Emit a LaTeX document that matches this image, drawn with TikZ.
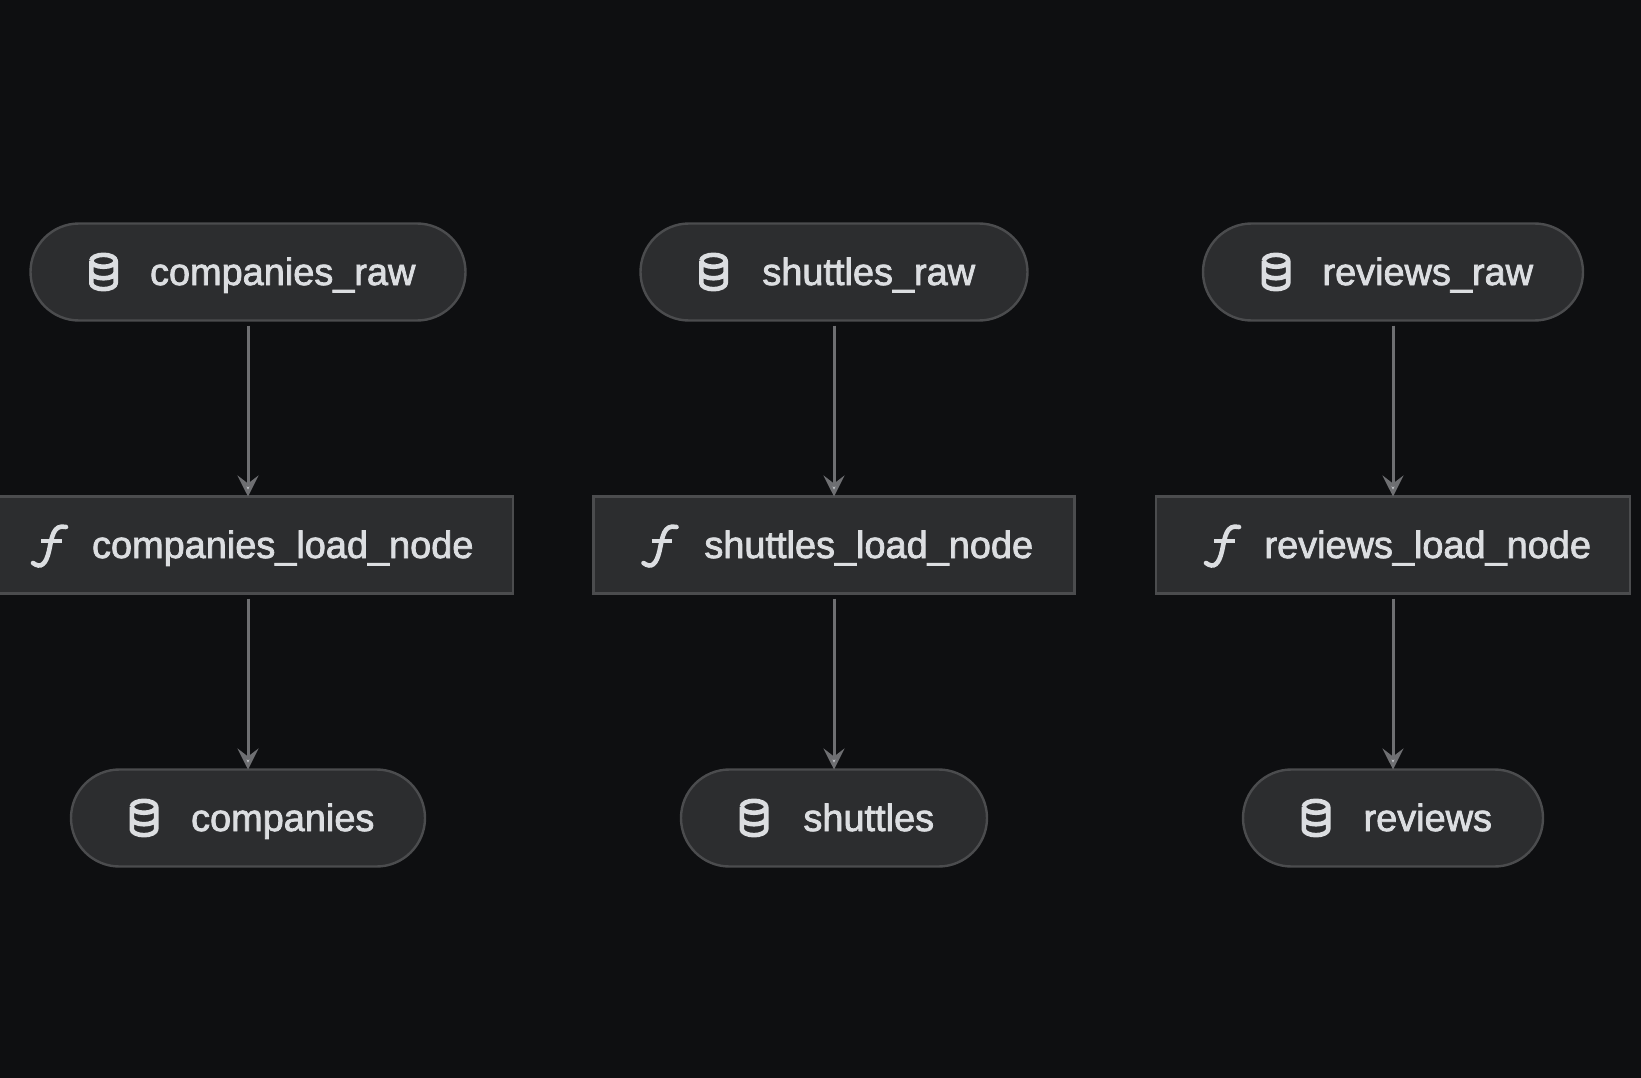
\documentclass[tikz,border=0pt]{standalone}
\usepackage{fontspec}
\setmainfont{Liberation Sans}[FakeBold=2]
\usetikzlibrary{arrows.meta}

\definecolor{canvasbg}{HTML}{0E0F11}
\definecolor{boxfill}{HTML}{2C2D2F}
\definecolor{boxline}{HTML}{4B4C4E}
\definecolor{labeltext}{HTML}{DCDEE1}
\definecolor{linkline}{HTML}{6E6F72}
\definecolor{linkhead}{HTML}{C6C8CC}

\tikzset{
	boxbase/.style={draw=boxline, fill=boxfill, line width=2.4pt, outer sep=0pt, inner sep=0pt,
		minimum height=97pt, text=labeltext, font=\fontsize{37.9pt}{40pt}\selectfont,
		text height=30pt, text depth=4pt},
	dataset/.style={boxbase, rectangle, rounded corners=48.5pt},
	task/.style={boxbase, rectangle},
	linkedge/.style={draw=linkline, shorten <=5pt, line width=3pt,
		-{Stealth[length=21pt, width=21pt, inset=8pt, fill=linkhead]}},
	dbicon/.pic={
		\draw [labeltext, line width=4.6pt, line join=round]
			(-12.2,-11.2) arc[start angle=180, end angle=-180, x radius=12.2, y radius=6]
			(-12.2,-11.2) -- (-12.2,11.2) arc[start angle=180, end angle=0, x radius=12.2, y radius=6] -- (12.2,-11.2)
			(-12.2,0.3) arc[start angle=180, end angle=0, x radius=12.2, y radius=6];
	},
	fnicon/.pic={
		\draw [labeltext, line width=4.6pt, line cap=round]
			(-16,18) .. controls (-8,24) and (-3,19) .. (0,6) .. controls (3,-8) and (4,-21) .. (17,-18);
		\draw [labeltext, line width=4.6pt] (-8,-4) -- (12.5,-4);
	}
}

\begin{document}
\begin{tikzpicture}[x=1pt, y=-1pt]
	\useasboundingbox (0,0) rectangle (1641,1078);
	\clip (0,0) rectangle (1641,1078);
	\fill [canvasbg] (0,0) rectangle (1641,1078);

	% first column
	\node [dataset, minimum width=435pt] (companies_raw) at (248,272) {\hspace{69.5pt}companies\_raw};
	\node [task, minimum width=530pt] (companies_load_node) at (248,545) {\hspace{69.5pt}companies\_load\_node};
	\node [dataset, minimum width=354pt] (companies) at (248,818) {\hspace{69.5pt}companies};

	% second column
	\node [dataset, minimum width=387pt] (shuttles_raw) at (834,272) {\hspace{69.5pt}shuttles\_raw};
	\node [task, minimum width=481pt] (shuttles_load_node) at (834,545) {\hspace{69.5pt}shuttles\_load\_node};
	\node [dataset, minimum width=306pt] (shuttles) at (834,818) {\hspace{69.5pt}shuttles};

	% third column
	\node [dataset, minimum width=380pt] (reviews_raw) at (1393,272) {\hspace{69.5pt}reviews\_raw};
	\node [task, minimum width=474pt] (reviews_load_node) at (1393,545) {\hspace{69.5pt}reviews\_load\_node};
	\node [dataset, minimum width=300pt] (reviews) at (1393,818) {\hspace{69.5pt}reviews};

	\pic at ([xshift=73pt]companies_raw.west) {dbicon};
	\pic at ([xshift=66pt]companies_load_node.west) {fnicon};
	\pic at ([xshift=73pt]companies.west) {dbicon};
	\pic at ([xshift=73pt]shuttles_raw.west) {dbicon};
	\pic at ([xshift=66pt]shuttles_load_node.west) {fnicon};
	\pic at ([xshift=73pt]shuttles.west) {dbicon};
	\pic at ([xshift=73pt]reviews_raw.west) {dbicon};
	\pic at ([xshift=66pt]reviews_load_node.west) {fnicon};
	\pic at ([xshift=73pt]reviews.west) {dbicon};

	\draw [linkedge] (companies_raw) -- (companies_load_node);
	\draw [linkedge] (companies_load_node) -- (companies);
	\draw [linkedge] (shuttles_raw) -- (shuttles_load_node);
	\draw [linkedge] (shuttles_load_node) -- (shuttles);
	\draw [linkedge] (reviews_raw) -- (reviews_load_node);
	\draw [linkedge] (reviews_load_node) -- (reviews);
\end{tikzpicture}
\end{document}
